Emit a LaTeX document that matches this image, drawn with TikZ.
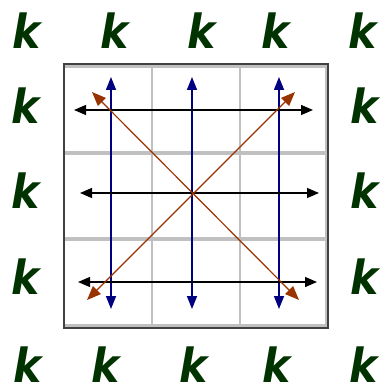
\documentclass[tikz,border=0pt]{standalone}
\usepackage{fontspec}
\newfontfamily\kfont{DejaVu Sans Condensed}
\usetikzlibrary{arrows.meta}
\definecolor{kgreen}{HTML}{003300}
\definecolor{navyb}{HTML}{000080}
\definecolor{brownr}{HTML}{993300}
\definecolor{gridg}{HTML}{C0C0C0}
\definecolor{frameg}{HTML}{404040}
\tikzset{
  kletter/.style={inner sep=0pt, text=kgreen, font=\kfont\bfseries\itshape\fontsize{47}{47}\selectfont},
  bluearrow/.style={draw=navyb, line width=1.5pt, {Triangle[length=13pt,width=10pt]}-{Triangle[length=13pt,width=10pt]}},
  blackarrow/.style={draw=black, line width=1.3pt, {Triangle[length=12pt,width=10pt]}-{Triangle[length=12pt,width=10pt]}},
  brownarrow/.style={draw=brownr, line width=1.2pt, {Triangle[length=14pt,width=11pt]}-{Triangle[length=14pt,width=11pt]}},
  thickgrid/.style={draw=gridg, line width=4pt},
  thingrid/.style={draw=gridg, line width=2.5pt},
}
\begin{document}
\begin{tikzpicture}[x=1pt,y=-1pt]
\useasboundingbox (0,0) rectangle (382,387);
% board
\fill[white] (64,64) rectangle (328,328);
\draw[thingrid] (152,64) -- (152,328);
\draw[thingrid] (240,64) -- (240,328);
\draw[draw=gridg, line width=1.5pt] (326,64) -- (326,328);
\draw[thickgrid] (64,66.5) -- (328,66.5);
\draw[thickgrid] (64,153) -- (328,153);
\draw[thickgrid] (64,239) -- (328,239);
\draw[thickgrid] (64,325.5) -- (328,325.5);
\node[draw=frameg, line width=1.5pt, inner sep=0pt, minimum width=264pt, minimum height=264pt] (board) at (196,196) {};
% k letters
\node[kletter] (k11) at (27,31) {k};
\node[kletter] (k12) at (115,31) {k};
\node[kletter] (k13) at (202,31) {k};
\node[kletter] (k14) at (276,31) {k};
\node[kletter] (k15) at (363,31) {k};
\node[kletter] (k21) at (26,106) {k};
\node[kletter] (k25) at (365,106) {k};
\node[kletter] (k31) at (26,191) {k};
\node[kletter] (k35) at (365,191) {k};
\node[kletter] (k41) at (26,277) {k};
\node[kletter] (k45) at (365,277) {k};
\node[kletter] (k51) at (28,365) {k};
\node[kletter] (k52) at (106,365) {k};
\node[kletter] (k53) at (194,365) {k};
\node[kletter] (k54) at (277,365) {k};
\node[kletter] (k55) at (364,365) {k};
% arrow end points
\coordinate (v1t) at (111,77); \coordinate (v1b) at (111,309);
\coordinate (v2t) at (192,77); \coordinate (v2b) at (192,309);
\coordinate (v3t) at (279,77); \coordinate (v3b) at (279,309);
\coordinate (h1l) at (74,110); \coordinate (h1r) at (313,110);
\coordinate (h2l) at (80,193); \coordinate (h2r) at (319,193);
\coordinate (h3l) at (78,282); \coordinate (h3r) at (317,282);
\coordinate (d1a) at (92,92); \coordinate (d1b) at (299,300);
\coordinate (d2a) at (87,300); \coordinate (d2b) at (295,92);
% arrows
\draw[bluearrow] (v1t) -- (v1b);
\draw[bluearrow] (v2t) -- (v2b);
\draw[bluearrow] (v3t) -- (v3b);
\draw[blackarrow] (h1l) -- (h1r);
\draw[blackarrow] (h2l) -- (h2r);
\draw[blackarrow] (h3l) -- (h3r);
\draw[brownarrow] (d1a) -- (d1b);
\draw[brownarrow] (d2a) -- (d2b);
\end{tikzpicture}
\end{document}
